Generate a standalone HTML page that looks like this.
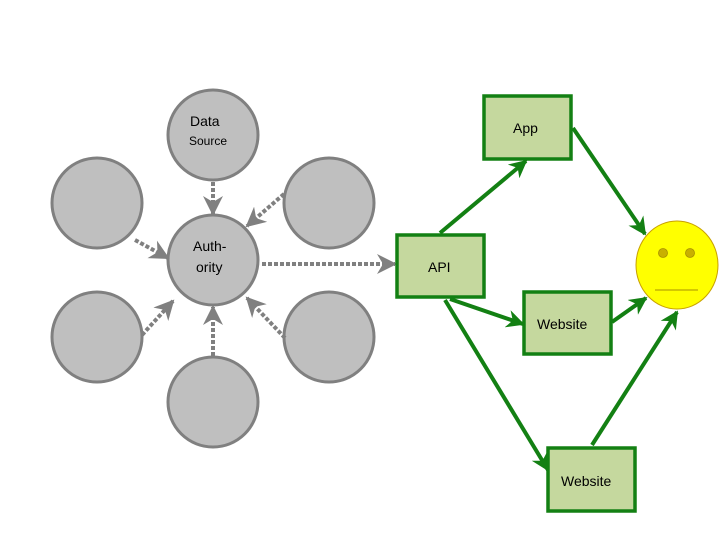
<!DOCTYPE html>
<html><head><meta charset="utf-8"><style>html,body{margin:0;padding:0;background:#fff}</style></head><body>
<svg width="720" height="540" xmlns="http://www.w3.org/2000/svg" font-family="Liberation Sans, DejaVu Sans, sans-serif">
<defs>
<marker id="ga" viewBox="0 0 10 10" refX="9" refY="5" markerWidth="5" markerHeight="5" orient="auto" markerUnits="strokeWidth"><path d="M0,0 L10,5 L0,10 L3,5 z" fill="#808080"/></marker>
<marker id="gr" viewBox="0 0 10 10" refX="9" refY="5" markerWidth="4.5" markerHeight="4.5" orient="auto" markerUnits="strokeWidth"><path d="M0,0 L10,5 L0,10 L3,5 z" fill="#138013"/></marker>
</defs>
<g fill="#bfbfbf" stroke="#808080" stroke-width="3">
<circle cx="213" cy="135" r="45"/>
<circle cx="213" cy="260" r="45"/>
<circle cx="97" cy="203" r="45"/>
<circle cx="329" cy="203" r="45"/>
<circle cx="97" cy="337" r="45"/>
<circle cx="329" cy="337" r="45"/>
<circle cx="213" cy="402" r="45"/>
</g>
<g stroke="#808080" stroke-width="4" stroke-dasharray="4,2" fill="none" marker-end="url(#ga)">
<line x1="213" y1="182" x2="213" y2="214"/>
<line x1="284" y1="194" x2="247" y2="226"/>
<line x1="135" y1="240" x2="168" y2="258"/>
<line x1="142" y1="335" x2="173" y2="301"/>
<line x1="213" y1="356" x2="213" y2="307"/>
<line x1="285" y1="338" x2="247" y2="298"/>
<line x1="262" y1="264" x2="395" y2="264"/>
</g>
<text x="190" y="126" font-size="14" fill="#000">Data</text>
<text x="189" y="145" font-size="12" fill="#000">Source</text>
<text x="193" y="251" font-size="14" fill="#000">Auth-</text>
<text x="196" y="272" font-size="14" fill="#000">ority</text>
<g stroke="#138013" stroke-width="4" fill="none" marker-end="url(#gr)">
<line x1="440" y1="233" x2="526" y2="161"/>
<line x1="573" y1="128" x2="645" y2="234"/>
<line x1="450" y1="299" x2="523" y2="324"/>
<line x1="612" y1="322" x2="646" y2="298"/>
<line x1="445" y1="300" x2="548" y2="470"/>
<line x1="592" y1="445" x2="677" y2="312"/>
</g>
<g fill="#c5d89e" stroke="#138013" stroke-width="3.5">
<rect x="484" y="96" width="87" height="63"/>
<rect x="397" y="235" width="87" height="62"/>
<rect x="524" y="292" width="87" height="62"/>
<rect x="548" y="448" width="87" height="63"/>
</g>
<g font-size="14" fill="#000">
<text x="513" y="133">App</text>
<text x="428" y="272">API</text>
<text x="537" y="329">Website</text>
<text x="561" y="486">Website</text>
</g>
<ellipse cx="677" cy="265" rx="41" ry="44" fill="#ffff00" stroke="#c8a000" stroke-width="1"/>
<circle cx="663" cy="253" r="4.5" fill="#c8b000" stroke="#a89000" stroke-width="0.8"/>
<circle cx="690" cy="253" r="4.5" fill="#c8b000" stroke="#a89000" stroke-width="0.8"/>
<line x1="655" y1="290" x2="698" y2="290" stroke="#a89000" stroke-width="1"/>
</svg>
</body></html>
